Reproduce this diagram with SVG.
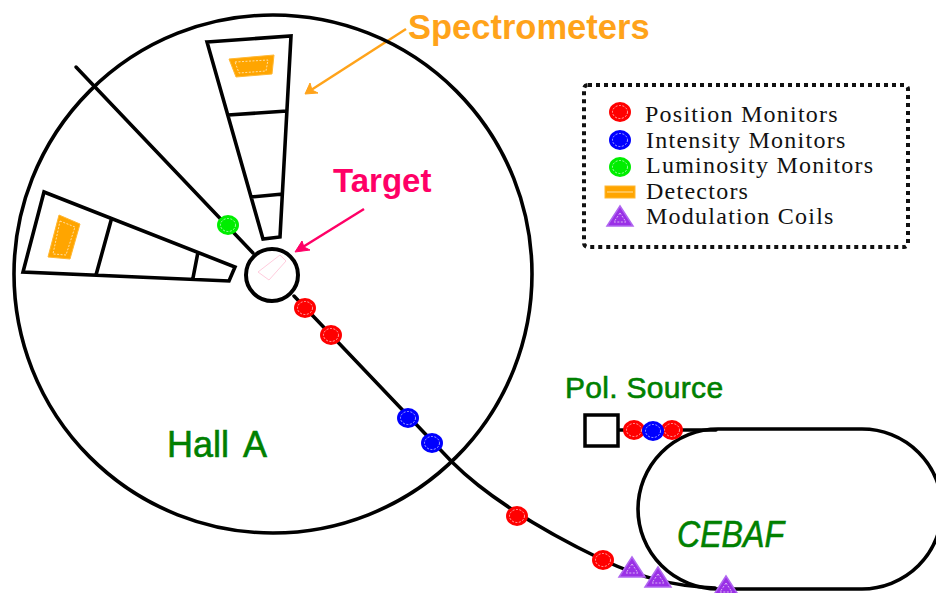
<svg xmlns="http://www.w3.org/2000/svg" width="936" height="593" viewBox="0 0 936 593">
<style>
.l{fill:none;stroke:#000;stroke-width:3.6;stroke-linejoin:miter}
.t{fill:none;stroke:#000;stroke-width:3.5;stroke-linecap:round}
.red{fill:#f00}.blue{fill:#00f}.green{fill:#0e0}
.d{fill:none;stroke:#fff;stroke-width:.8;stroke-dasharray:2 1.5;opacity:.8}
.tri{fill:#9a30e6;stroke:#b066f0;stroke-width:1.5}
.det{fill:#ffa500;stroke:#ffb733;stroke-width:1}
.leg{font:24px "Liberation Serif",serif;fill:#111;letter-spacing:1.25px}
.com{font-family:"Liberation Sans",sans-serif;fill:#008000;stroke:#008000;stroke-width:.6}
.sans{font-family:"Liberation Sans",sans-serif;font-weight:bold}
</style>
<defs>
<g id="mon"><ellipse rx="11" ry="10"/><ellipse rx="7.5" ry="6.5" class="d"/></g>
<g id="coil"><path d="M0-10 13 10H-13Z" class="tri"/><path d="M0-3 6 6H-6Z" class="d"/></g>
</defs>
<g id="connectors">
<path class="t" d="M76 67 253 253"/>
<path class="t" d="M294 296 452 462C480 490 530 525 603 560 640 577 670 586 715 588"/>
<path class="t" d="M616 430H716"/>
<path d="M406 29 308 92" fill="none" stroke="#ffa31a" stroke-width="2.5"/>
<path d="M305 94 318 93 312 90 310 83Z" fill="#ffa31a" stroke="#ffa31a"/>
<path d="M364 209 298 250" fill="none" stroke="#ff0066" stroke-width="2.5"/>
<path d="M295 252 310 250 304 247 302 241Z" fill="#ff0066" stroke="#ff0066"/>
</g>
<g id="hall-a"><circle cx="273" cy="274" r="259" fill="none" stroke="#000" stroke-width="3.6"/>
<text class="com" x="167" y="457" font-size="36" word-spacing="6">Hall A</text></g>
<g id="spectrometer-top"><path class="l" d="M207 42 291 36 280 237 263 239ZM228 115 287 111M251 197 283 194"/><path class="det" d="M229 59 274 55 272 74 236 77Z"/><path class="d" d="M235 62 268 60 266 71 239 73Z"/></g>
<g id="spectrometer-left"><path class="l" d="M44 192 235 267 229 281 23 272ZM112 217 96 275M198 252 193 278"/><path class="det" d="M59 215 80 224 70 259 48 257Z"/><path class="d" d="M60 221 75 227 66 255 53 254Z"/></g>
<g id="target"><circle cx="272" cy="275" r="26" fill="#fff" stroke="#000" stroke-width="4"/><path d="M258 272 280 255 286 261 269 280Z" fill="none" stroke="#fcd" stroke-width="1"/></g>
<g id="lum-monitor"><use href="#mon" class="green" x="228" y="225"/></g>
<g id="beam-monitors">
<use href="#mon" class="red" x="305" y="308"/><use href="#mon" class="red" x="331" y="335"/>
<use href="#mon" class="blue" x="408" y="418"/><use href="#mon" class="blue" x="432" y="443"/>
<use href="#mon" class="red" x="517" y="516"/><use href="#mon" class="red" x="603" y="560"/>
</g>
<g id="cebaf"><path class="l" d="M718 429H862A80 80 0 0 1 862 589H718A80 80 0 0 1 718 429Z"/>
<text class="com" x="677" y="547" font-size="36" font-style="italic" textLength="107" lengthAdjust="spacingAndGlyphs">CEBAF</text></g>
<g id="coils"><use href="#coil" x="632" y="567"/><use href="#coil" x="658" y="577"/><use href="#coil" x="726" y="586"/></g>
<g id="pol-source"><rect x="585" y="415" width="33" height="31" fill="#fff" stroke="#000" stroke-width="3.5"/>
<text class="com" x="565" y="398" font-size="30" letter-spacing=".3">Pol. Source</text>
<use href="#mon" class="red" x="634" y="430"/><use href="#mon" class="red" x="672" y="430"/><use href="#mon" class="blue" x="653" y="431"/></g>
<g id="legend"><rect x="584" y="85" width="324" height="162" rx="4" fill="none" stroke="#111" stroke-width="4" stroke-dasharray="4 4"/>
<use href="#mon" class="red" x="620" y="112"/><use href="#mon" class="blue" x="620" y="140"/><use href="#mon" class="green" x="620" y="167"/>
<rect x="605" y="186" width="30" height="12" class="det"/><path d="M607 192H633" stroke="#ffe0a0" fill="none"/>
<use href="#coil" x="620" y="216"/>
<text class="leg" x="645" y="122">Position Monitors</text>
<text class="leg" x="646" y="148">Intensity Monitors</text>
<text class="leg" x="646" y="173">Luminosity Monitors</text>
<text class="leg" x="646" y="199">Detectors</text>
<text class="leg" x="646" y="224">Modulation Coils</text></g>
<text id="label-spectrometers" class="sans" x="408" y="39" font-size="34.5" fill="#ffa31a">Spectrometers</text>
<text id="label-target" class="sans" x="333" y="192" font-size="33" fill="#ff0066">Target</text>
</svg>
